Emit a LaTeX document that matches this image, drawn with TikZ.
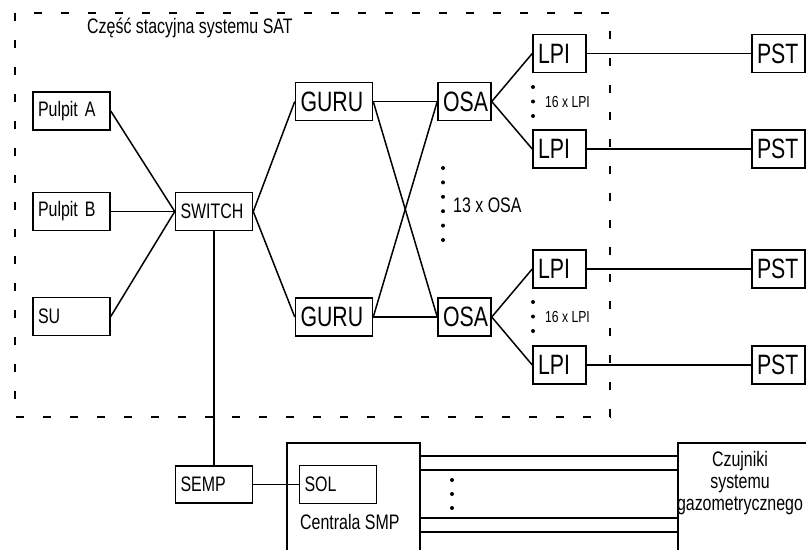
\documentclass[tikz,border=0pt]{standalone}
\usepackage{fontspec}
\setmainfont[FakeStretch=0.76]{Liberation Sans}
\usetikzlibrary{positioning}

\begin{document}
\begin{tikzpicture}[
        x=1pt, y=-1pt,
        node distance=130pt,
        on grid,
        every node/.style={font=\fontsize{21}{22}\selectfont},
        big/.style={font=\fontsize{28}{30}\selectfont},
        small/.style={font=\fontsize{16}{18}\selectfont},
        box/.style={draw, line width=1.5pt, inner xsep=5pt, inner ysep=0pt, minimum height=38pt, align=left},
        wide/.style={box, text width=67pt},
        narrow/.style={box, big, text width=43pt},
        plain/.style={anchor=west, inner sep=0pt},
        link/.style={draw, line width=1.5pt},
        frame/.style={line width=1.5pt, dash pattern=on 8pt off 19pt}
    ]
        \useasboundingbox (0,0) rectangle (806,549);
        \clip (0,0) rectangle (806,549);
        \draw[frame] (15,13) rectangle (610,417);
        \node[plain] (title) at (87,28) {Część stacyjna systemu SAT};

        \node[wide] (pulpitb) at (71.5,211.5) {Pulpit B};
\node[wide, above=100.5pt of pulpitb] (pulpita) {Pulpit A};
        \node[wide, below=105pt of pulpitb] (su) {SU};
        \node[wide, right=142.5pt of pulpitb] (switch) {SWITCH};
        \node[wide, big, above right=110pt and 120pt of switch] (gurua) {GURU};
        \node[wide, big, below=215.5pt of gurua] (gurub) {GURU};
        \node[narrow, right=130.5pt of gurua] (osaa) {OSA};
        \node[narrow, right=130.5pt of gurub] (osab) {OSA};
        \node[narrow, above right=48pt and 95pt of osaa] (lpia) {LPI};
        \node[narrow, below right=47.5pt and 95pt of osaa] (lpib) {LPI};
        \node[narrow, above right=48pt and 95pt of osab] (lpic) {LPI};
        \node[narrow, below right=48pt and 95pt of osab] (lpid) {LPI};
\node[narrow, right=219pt of lpia] (psta) {PST};
        \node[narrow, right=219pt of lpib] (pstb) {PST};
        \node[narrow, right=219pt of lpic] (pstc) {PST};
        \node[narrow, right=219pt of lpid] (pstd) {PST};

        \node[plain] (osacount) at (453,205) {13 x OSA};
        \node[plain, small] (lpicounta) at (545,102) {16 x LPI};
        \node[plain, small] (lpicountb) at (545,317) {16 x LPI};
        \foreach \i in {0,...,5}
            \fill (443,{168+14.4*\i}) circle (2pt);
        \foreach \y in {87,101.5,116,302,316.5,331}
            \fill (533,\y) circle (2pt);

        \node[wide, minimum height=37pt, below=273pt of switch] (semp) {SEMP};
        \node[wide, right=124pt of semp] (sol) {SOL};
        \node[draw, line width=1.5pt, minimum width=133pt, minimum height=130pt, anchor=north west] (centrala) at (286,442) {};
        \node[plain] (centralatext) at (300,522) {Centrala SMP};
        \node[draw, line width=1.5pt, minimum width=160pt, minimum height=130pt, anchor=north west] (sensors) at (677,442) {};
        \node[align=center] (sensorstext) at (740,483) {Czujniki\\systemu\\gazometrycznego};
        \foreach \y in {480,494,508}
            \fill (452,\y) circle (2pt);

\path[link]
        (pulpita.east) edge (switch.west)
        (pulpitb.east) edge (switch.west)
        (su.east) edge (switch.west)
        (switch.east) edge (gurua.west)
        (switch.east) edge (gurub.west)
        (gurua.east) edge (osaa.west)
        (gurua.east) edge (osab.west)
        (gurub.east) edge (osaa.west)
        (gurub.east) edge (osab.west)
        (osaa.east) edge (lpia.west)
        (osaa.east) edge (lpib.west)
        (osab.east) edge (lpic.west)
        (osab.east) edge (lpid.west)
        (lpia.east) edge (psta.west)
        (lpib.east) edge (pstb.west)
        (lpic.east) edge (pstc.west)
        (lpid.east) edge (pstd.west)
        (switch.south) edge (semp.north)
        (semp.east) edge (sol.west);
        \foreach \d in {14,28,76,90}
            \draw[link] ([yshift=-\d pt]centrala.north east) -- ([yshift=-\d pt]sensors.north west);
\end{tikzpicture}
\end{document}
